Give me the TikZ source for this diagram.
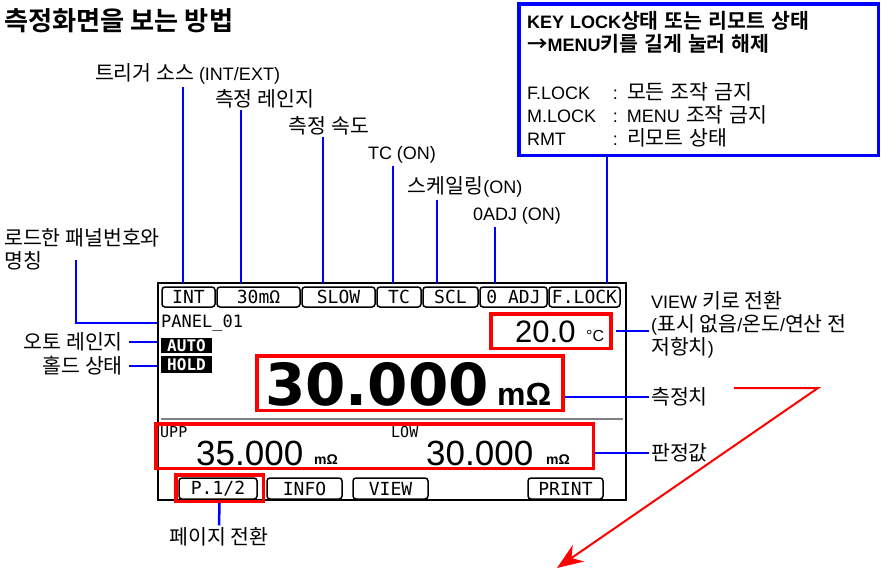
\documentclass[tikz,border=0pt]{standalone}
\usepackage{fontspec}
\setmainfont{Liberation Sans}
\newfontfamily\kr{Noto Sans CJK KR}[Scale=1.14,BoldFont={Noto Sans CJK KR Bold}]
\newfontfamily\lcd{DejaVu Sans Mono}
\newfontfamily\lcdbig{DejaVu Sans}
\usetikzlibrary{arrows.meta}

\begin{document}
\begin{tikzpicture}[x=1pt,y=-1pt,
  lead/.style={blue, line width=2.5pt},
  lbl/.style={inner sep=2pt, font=\fontsize{18}{23}\selectfont},
  klbl/.style={inner sep=2pt, font=\kr\fontsize{18}{23}\selectfont},
  tab/.style={draw, rounded corners=3pt, line width=1.5pt, inner sep=0pt,
    minimum height=20pt, font=\lcd\fontsize{18}{18}\selectfont},
  redbox/.style={draw=red, line width=3.5pt, inner sep=0pt},
  flag/.style={fill=black, text=white, inner sep=0pt, minimum width=51pt,
    font=\lcd\bfseries\fontsize{16}{16}\selectfont},
  val/.style={anchor=base west, inner sep=0pt}]

  \useasboundingbox (0,0) rectangle (881,570);

  % Title
  \node[anchor=west, inner sep=0pt, font=\kr\bfseries\fontsize{23}{28}\selectfont]
    (title) at (4,21) {측정화면을 보는 방법};

  % Screen frame
  \node[draw, line width=1.5pt, inner sep=0pt, minimum width=468pt,
    minimum height=217pt] (scr) at (392,391.5) {};

  % Top tabs
  \node[tab, minimum width=53pt] (tInt) at (188.5,297) {INT};
  \node[tab, minimum width=83pt] (tRng) at (258.5,297) {30mΩ};
  \node[tab, minimum width=73pt] (tSpd) at (338.5,297) {SLOW};
  \node[tab, minimum width=44pt] (tTc) at (399,297) {TC};
  \node[tab, minimum width=55pt] (tScl) at (450.5,297) {SCL};
  \node[tab, minimum width=67pt] (tAdj) at (513.5,297) {0 ADJ};
  \node[tab, minimum width=71pt] (tLock) at (584.5,297) {F.LOCK};

  % Readings on the screen
  \node[anchor=west, inner sep=0pt, font=\lcd\fontsize{17}{17}\selectfont]
    (pan) at (161,323) {PANEL\_01};
  \node[flag, minimum height=15pt] (auto) at (186.5,345.5) {AUTO};
  \node[flag, minimum height=17pt] (hold) at (186.5,364.5) {HOLD};
  \node[val, font=\fontsize{31}{31}\selectfont] (temp) at (515,342) {20.0};
  \node[val, font=\fontsize{16}{16}\selectfont] (tunit) at (586,341) {°C};
  \node[val, font=\lcdbig\bfseries\fontsize{58}{58}\selectfont] (meas) at (265,405) {30.000};
  \node[val, font=\bfseries\fontsize{32}{32}\selectfont] (munit) at (497,405) {mΩ};
  \draw[gray, line width=1.5pt] (161,419) -- (623,419);
  \node[val, font=\lcd\fontsize{15}{15}\selectfont] (upp) at (160,437) {UPP};
  \node[val, font=\lcd\fontsize{15}{15}\selectfont] (low) at (391,437) {LOW};
  \node[val, font=\fontsize{35}{35}\selectfont] (uval) at (196,465) {35.000};
  \node[val, font=\bfseries\fontsize{14}{14}\selectfont] (uunit) at (314,464) {mΩ};
  \node[val, font=\fontsize{35}{35}\selectfont] (lval) at (426,465) {30.000};
  \node[val, font=\bfseries\fontsize{14}{14}\selectfont] (lunit) at (546,464) {mΩ};

  % Bottom tabs
  \node[tab, minimum width=78pt, minimum height=21pt] (bPage) at (218,488.5) {P.1/2};
  \node[tab, minimum width=75pt, minimum height=21pt] (bInfo) at (304.5,488.5) {INFO};
  \node[tab, minimum width=75pt, minimum height=21pt] (bView) at (390.5,488.5) {VIEW};
  \node[tab, minimum width=75pt, minimum height=21pt] (bPrint) at (565.5,488.5) {PRINT};

  % Red frames
  \node[redbox, minimum width=120pt, minimum height=34.5pt] (tbox) at (551,331) {};
  \node[redbox, minimum width=306pt, minimum height=54.5pt] (mbox) at (410,383) {};
  \node[redbox, minimum width=437.5pt, minimum height=44.5pt] (jbox) at (374.5,446) {};
  \node[redbox, minimum width=87.5pt, minimum height=26.5pt] (pbox) at (219.5,488) {};

  % Key lock note
  \node[draw=blue, line width=3.5pt, minimum width=359.5pt, minimum height=151.5pt,
    text width=343pt, align=left, inner sep=0pt, font=\fontsize{18}{23}\selectfont]
    (keybox) at (698.5,79.5) {\bfseries KEY LOCK{\kr 상태 또는 리모트 상태}\\
    {\kr →}MENU{\kr 키를 길게 눌러 해제}\\[25pt]
    \mdseries\makebox[86pt][l]{F.LOCK}: {\kr 모든 조작 금지}\\
    \makebox[86pt][l]{M.LOCK}: MENU {\kr 조작 금지}\\
    \makebox[86pt][l]{RMT}: {\kr 리모트 상태}};

  % Labels above the tabs
  \coordinate (pTrig) at (183,283);
  \coordinate (pRng) at (241,283);
  \coordinate (pSpd) at (323,283);
  \coordinate (pTc) at (393,283);
  \coordinate (pScl) at (437,283);
  \coordinate (pAdj) at (495,283);
  \coordinate (pLock) at (607,283);
  \node[lbl] (lTrig) at (187.5,74) {{\kr 트리거 소스} (INT/EXT)};
  \node[klbl] (lRng) at (264.5,98.5) {측정 레인지};
  \node[klbl] (lSpd) at (329,125.5) {측정 속도};
  \node[lbl] (lTc) at (402,155) {TC (ON)};
  \node[lbl] (lScl) at (465,187) {{\kr 스케일링}(ON)};
  \node[lbl] (lAdj) at (517,216) {0ADJ (ON)};
  \draw[lead] (lTrig.south -| pTrig) -- (pTrig);
  \draw[lead] (lRng.south -| pRng) -- (pRng);
  \draw[lead] (lSpd.south -| pSpd) -- (pSpd);
  \draw[lead] (lTc.south -| pTc) -- (pTc);
  \draw[lead] (lScl.south -| pScl) -- (pScl);
  \draw[lead] (lAdj.south -| pAdj) -- (pAdj);
  \draw[lead] (keybox.south -| pLock) -- (pLock);

  % Labels on the left
  \node[klbl, anchor=west, align=left] (lPan) at (2,249.5) {로드한 패널번호와\\명칭};
  \node[klbl, anchor=east] (lAuto) at (125,342) {오토 레인지};
  \node[klbl, anchor=east] (lHold) at (125,366) {홀드 상태};
  \coordinate (pPan) at (76,260);
  \draw[lead] (pPan) |- (scr.west |- pan.west);
  \draw[lead] ([xshift=4pt]lAuto.east) -- (scr.west |- lAuto.east);
  \draw[lead] ([xshift=4pt]lHold.east) -- (scr.west |- lHold.east);

  % Labels on the right
  \node[lbl, anchor=west, align=left] (lView) at (649,325)
    {VIEW {\kr 키로 전환}\\({\kr 표시 없음}/{\kr 온도}/{\kr 연산 전}\\{\kr 저항치})};
  \node[klbl, anchor=west] (lMeas) at (649,397) {측정치};
  \node[klbl, anchor=west] (lJud) at (649,453) {판정값};
  \draw[lead] ([xshift=3pt]tbox.east) -- (tbox.east -| lView.west);
  \draw[lead] (lMeas.west) -- (lMeas.west -| mbox.east);
  \draw[lead] (lJud.west) -- (lJud.west -| jbox.east);

  % Page switch label
  \node[klbl] (lPage) at (219,537) {페이지 전환};
  \draw[lead] (pbox.south) -- (lPage.north);

  % Red pointer
  \coordinate (rA) at (734,388);
  \coordinate (rB) at (818,388);
  \coordinate (rC) at (557,568);
  \draw[red, line width=2pt, -{Stealth[length=26pt,width=20pt]}] (rA) -- (rB) -- (rC);
\end{tikzpicture}
\end{document}
